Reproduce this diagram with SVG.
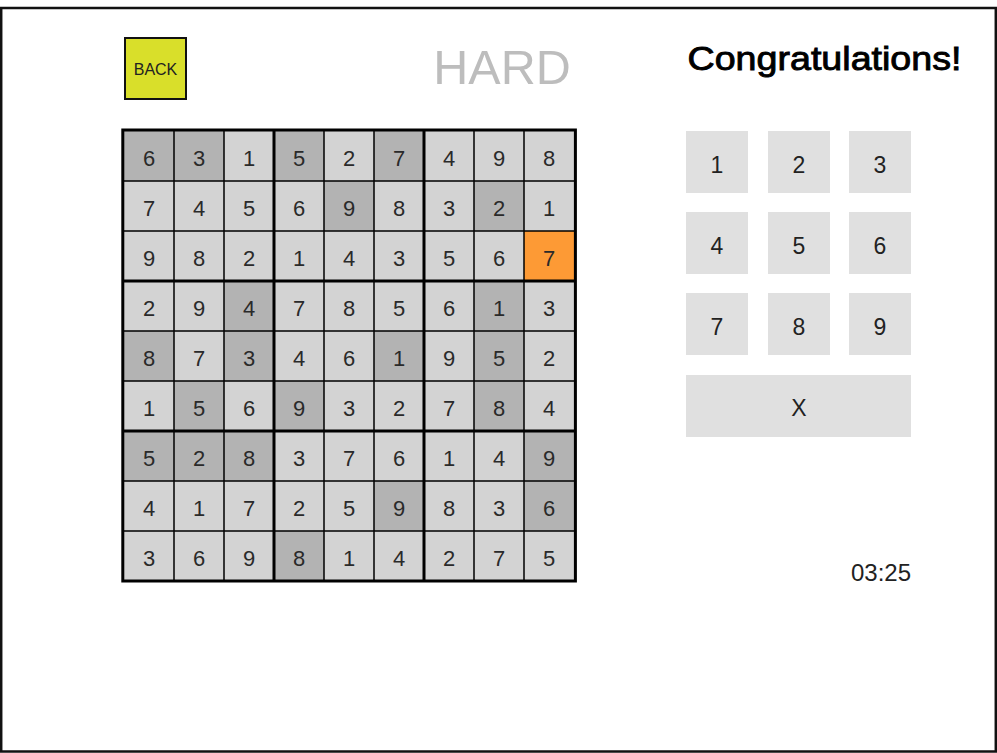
<svg xmlns="http://www.w3.org/2000/svg" width="997" height="753" viewBox="0 0 997 753">
<style>
text{font-family:"Liberation Sans",Arial,sans-serif;}
.l{fill:#d3d3d3;}
.d{fill:#b3b3b3;}
.o{fill:#fd9a35;}
.g text{font-size:22px;fill:#2a2a2a;text-anchor:middle;}
.k rect{fill:#e0e0e0;}
.k text{font-size:23px;fill:#222;text-anchor:middle;}
.thin{stroke:#000;stroke-width:1.5;}
.thick{stroke:#000;stroke-width:3;}
</style>
<rect id="frame" x="1.2" y="8" width="994.6" height="743.5" fill="#fff" stroke="#111" stroke-width="2.5"/>
<g id="back">
<rect x="125" y="38" width="61" height="61" fill="#d9df2a" stroke="#111" stroke-width="2"/>
<text x="155.5" y="75" font-size="16" text-anchor="middle" fill="#222">BACK</text>
</g>
<g id="difficulty"><text x="502" y="83.5" font-size="48.5" fill="#bdbdbd" text-anchor="middle">HARD</text></g>
<g id="congrats"><text x="687.5" y="70" font-size="33.5" fill="#000" stroke="#000" stroke-width="0.9" textLength="274" lengthAdjust="spacingAndGlyphs">Congratulations!</text></g>
<g id="board" class="g">
<g id="c00"><rect class="d" x="124" y="131" width="50" height="50"/><text x="149" y="165.5">6</text></g>
<g id="c01"><rect class="d" x="174" y="131" width="50" height="50"/><text x="199" y="165.5">3</text></g>
<g id="c02"><rect class="l" x="224" y="131" width="50" height="50"/><text x="249" y="165.5">1</text></g>
<g id="c03"><rect class="d" x="274" y="131" width="50" height="50"/><text x="299" y="165.5">5</text></g>
<g id="c04"><rect class="l" x="324" y="131" width="50" height="50"/><text x="349" y="165.5">2</text></g>
<g id="c05"><rect class="d" x="374" y="131" width="50" height="50"/><text x="399" y="165.5">7</text></g>
<g id="c06"><rect class="l" x="424" y="131" width="50" height="50"/><text x="449" y="165.5">4</text></g>
<g id="c07"><rect class="l" x="474" y="131" width="50" height="50"/><text x="499" y="165.5">9</text></g>
<g id="c08"><rect class="l" x="524" y="131" width="50" height="50"/><text x="549" y="165.5">8</text></g>

<g id="c10"><rect class="l" x="124" y="181" width="50" height="50"/><text x="149" y="215.5">7</text></g>
<g id="c11"><rect class="l" x="174" y="181" width="50" height="50"/><text x="199" y="215.5">4</text></g>
<g id="c12"><rect class="l" x="224" y="181" width="50" height="50"/><text x="249" y="215.5">5</text></g>
<g id="c13"><rect class="l" x="274" y="181" width="50" height="50"/><text x="299" y="215.5">6</text></g>
<g id="c14"><rect class="d" x="324" y="181" width="50" height="50"/><text x="349" y="215.5">9</text></g>
<g id="c15"><rect class="l" x="374" y="181" width="50" height="50"/><text x="399" y="215.5">8</text></g>
<g id="c16"><rect class="l" x="424" y="181" width="50" height="50"/><text x="449" y="215.5">3</text></g>
<g id="c17"><rect class="d" x="474" y="181" width="50" height="50"/><text x="499" y="215.5">2</text></g>
<g id="c18"><rect class="l" x="524" y="181" width="50" height="50"/><text x="549" y="215.5">1</text></g>

<g id="c20"><rect class="l" x="124" y="231" width="50" height="50"/><text x="149" y="265.5">9</text></g>
<g id="c21"><rect class="l" x="174" y="231" width="50" height="50"/><text x="199" y="265.5">8</text></g>
<g id="c22"><rect class="l" x="224" y="231" width="50" height="50"/><text x="249" y="265.5">2</text></g>
<g id="c23"><rect class="l" x="274" y="231" width="50" height="50"/><text x="299" y="265.5">1</text></g>
<g id="c24"><rect class="l" x="324" y="231" width="50" height="50"/><text x="349" y="265.5">4</text></g>
<g id="c25"><rect class="l" x="374" y="231" width="50" height="50"/><text x="399" y="265.5">3</text></g>
<g id="c26"><rect class="l" x="424" y="231" width="50" height="50"/><text x="449" y="265.5">5</text></g>
<g id="c27"><rect class="l" x="474" y="231" width="50" height="50"/><text x="499" y="265.5">6</text></g>
<g id="c28"><rect class="o" x="524" y="231" width="50" height="50"/><text x="549" y="265.5">7</text></g>

<g id="c30"><rect class="l" x="124" y="281" width="50" height="50"/><text x="149" y="315.5">2</text></g>
<g id="c31"><rect class="l" x="174" y="281" width="50" height="50"/><text x="199" y="315.5">9</text></g>
<g id="c32"><rect class="d" x="224" y="281" width="50" height="50"/><text x="249" y="315.5">4</text></g>
<g id="c33"><rect class="l" x="274" y="281" width="50" height="50"/><text x="299" y="315.5">7</text></g>
<g id="c34"><rect class="l" x="324" y="281" width="50" height="50"/><text x="349" y="315.5">8</text></g>
<g id="c35"><rect class="l" x="374" y="281" width="50" height="50"/><text x="399" y="315.5">5</text></g>
<g id="c36"><rect class="l" x="424" y="281" width="50" height="50"/><text x="449" y="315.5">6</text></g>
<g id="c37"><rect class="d" x="474" y="281" width="50" height="50"/><text x="499" y="315.5">1</text></g>
<g id="c38"><rect class="l" x="524" y="281" width="50" height="50"/><text x="549" y="315.5">3</text></g>

<g id="c40"><rect class="d" x="124" y="331" width="50" height="50"/><text x="149" y="365.5">8</text></g>
<g id="c41"><rect class="l" x="174" y="331" width="50" height="50"/><text x="199" y="365.5">7</text></g>
<g id="c42"><rect class="d" x="224" y="331" width="50" height="50"/><text x="249" y="365.5">3</text></g>
<g id="c43"><rect class="l" x="274" y="331" width="50" height="50"/><text x="299" y="365.5">4</text></g>
<g id="c44"><rect class="l" x="324" y="331" width="50" height="50"/><text x="349" y="365.5">6</text></g>
<g id="c45"><rect class="d" x="374" y="331" width="50" height="50"/><text x="399" y="365.5">1</text></g>
<g id="c46"><rect class="l" x="424" y="331" width="50" height="50"/><text x="449" y="365.5">9</text></g>
<g id="c47"><rect class="d" x="474" y="331" width="50" height="50"/><text x="499" y="365.5">5</text></g>
<g id="c48"><rect class="l" x="524" y="331" width="50" height="50"/><text x="549" y="365.5">2</text></g>

<g id="c50"><rect class="l" x="124" y="381" width="50" height="50"/><text x="149" y="415.5">1</text></g>
<g id="c51"><rect class="d" x="174" y="381" width="50" height="50"/><text x="199" y="415.5">5</text></g>
<g id="c52"><rect class="l" x="224" y="381" width="50" height="50"/><text x="249" y="415.5">6</text></g>
<g id="c53"><rect class="d" x="274" y="381" width="50" height="50"/><text x="299" y="415.5">9</text></g>
<g id="c54"><rect class="l" x="324" y="381" width="50" height="50"/><text x="349" y="415.5">3</text></g>
<g id="c55"><rect class="l" x="374" y="381" width="50" height="50"/><text x="399" y="415.5">2</text></g>
<g id="c56"><rect class="l" x="424" y="381" width="50" height="50"/><text x="449" y="415.5">7</text></g>
<g id="c57"><rect class="d" x="474" y="381" width="50" height="50"/><text x="499" y="415.5">8</text></g>
<g id="c58"><rect class="l" x="524" y="381" width="50" height="50"/><text x="549" y="415.5">4</text></g>

<g id="c60"><rect class="d" x="124" y="431" width="50" height="50"/><text x="149" y="465.5">5</text></g>
<g id="c61"><rect class="d" x="174" y="431" width="50" height="50"/><text x="199" y="465.5">2</text></g>
<g id="c62"><rect class="d" x="224" y="431" width="50" height="50"/><text x="249" y="465.5">8</text></g>
<g id="c63"><rect class="l" x="274" y="431" width="50" height="50"/><text x="299" y="465.5">3</text></g>
<g id="c64"><rect class="l" x="324" y="431" width="50" height="50"/><text x="349" y="465.5">7</text></g>
<g id="c65"><rect class="l" x="374" y="431" width="50" height="50"/><text x="399" y="465.5">6</text></g>
<g id="c66"><rect class="l" x="424" y="431" width="50" height="50"/><text x="449" y="465.5">1</text></g>
<g id="c67"><rect class="l" x="474" y="431" width="50" height="50"/><text x="499" y="465.5">4</text></g>
<g id="c68"><rect class="d" x="524" y="431" width="50" height="50"/><text x="549" y="465.5">9</text></g>

<g id="c70"><rect class="l" x="124" y="481" width="50" height="50"/><text x="149" y="515.5">4</text></g>
<g id="c71"><rect class="l" x="174" y="481" width="50" height="50"/><text x="199" y="515.5">1</text></g>
<g id="c72"><rect class="l" x="224" y="481" width="50" height="50"/><text x="249" y="515.5">7</text></g>
<g id="c73"><rect class="l" x="274" y="481" width="50" height="50"/><text x="299" y="515.5">2</text></g>
<g id="c74"><rect class="l" x="324" y="481" width="50" height="50"/><text x="349" y="515.5">5</text></g>
<g id="c75"><rect class="d" x="374" y="481" width="50" height="50"/><text x="399" y="515.5">9</text></g>
<g id="c76"><rect class="l" x="424" y="481" width="50" height="50"/><text x="449" y="515.5">8</text></g>
<g id="c77"><rect class="l" x="474" y="481" width="50" height="50"/><text x="499" y="515.5">3</text></g>
<g id="c78"><rect class="d" x="524" y="481" width="50" height="50"/><text x="549" y="515.5">6</text></g>

<g id="c80"><rect class="l" x="124" y="531" width="50" height="50"/><text x="149" y="565.5">3</text></g>
<g id="c81"><rect class="l" x="174" y="531" width="50" height="50"/><text x="199" y="565.5">6</text></g>
<g id="c82"><rect class="l" x="224" y="531" width="50" height="50"/><text x="249" y="565.5">9</text></g>
<g id="c83"><rect class="d" x="274" y="531" width="50" height="50"/><text x="299" y="565.5">8</text></g>
<g id="c84"><rect class="l" x="324" y="531" width="50" height="50"/><text x="349" y="565.5">1</text></g>
<g id="c85"><rect class="l" x="374" y="531" width="50" height="50"/><text x="399" y="565.5">4</text></g>
<g id="c86"><rect class="l" x="424" y="531" width="50" height="50"/><text x="449" y="565.5">2</text></g>
<g id="c87"><rect class="l" x="474" y="531" width="50" height="50"/><text x="499" y="565.5">7</text></g>
<g id="c88"><rect class="l" x="524" y="531" width="50" height="50"/><text x="549" y="565.5">5</text></g>
</g>
<g id="gridlines" fill="none">
<path class="thin" d="M174 131V581M224 131V581M324 131V581M374 131V581M474 131V581M524 131V581M124 181H574M124 231H574M124 331H574M124 381H574M124 481H574M124 531H574"/>
<path class="thick" d="M274 131V581M424 131V581M124 281H574M124 431H574"/>
<rect class="thick" x="122.8" y="130" width="452.6" height="451"/>
</g>
<g id="keypad" class="k">
<g id="k1"><rect x="686" y="131" width="62" height="62"/><text x="717" y="172.5">1</text></g>
<g id="k2"><rect x="768" y="131" width="62" height="62"/><text x="799" y="172.5">2</text></g>
<g id="k3"><rect x="849" y="131" width="62" height="62"/><text x="880" y="172.5">3</text></g>
<g id="k4"><rect x="686" y="212" width="62" height="62"/><text x="717" y="253.5">4</text></g>
<g id="k5"><rect x="768" y="212" width="62" height="62"/><text x="799" y="253.5">5</text></g>
<g id="k6"><rect x="849" y="212" width="62" height="62"/><text x="880" y="253.5">6</text></g>
<g id="k7"><rect x="686" y="293" width="62" height="62"/><text x="717" y="334.5">7</text></g>
<g id="k8"><rect x="768" y="293" width="62" height="62"/><text x="799" y="334.5">8</text></g>
<g id="k9"><rect x="849" y="293" width="62" height="62"/><text x="880" y="334.5">9</text></g>
<g id="kx"><rect x="686" y="375" width="225" height="62"/><text x="799" y="416">X</text></g>
</g>
<g id="timer"><text x="911" y="581" font-size="24" fill="#222" text-anchor="end">03:25</text></g>
</svg>
